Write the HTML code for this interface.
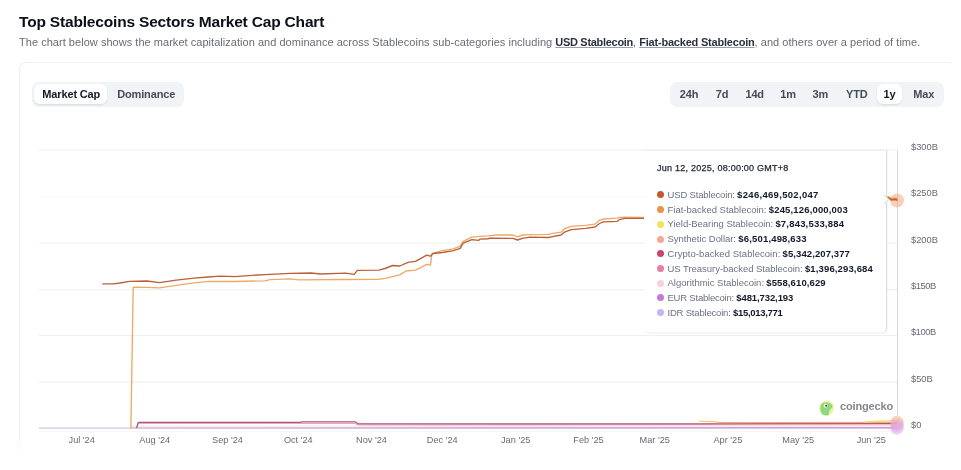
<!DOCTYPE html>
<html><head><meta charset="utf-8">
<style>
*{box-sizing:border-box;margin:0;padding:0}
html,body{width:961px;height:470px;overflow:hidden;background:#fff}
body{will-change:transform}
body{position:relative;font-family:"Liberation Sans",Arial,sans-serif;color:#0d1117}
.abs{position:absolute;white-space:nowrap}
#title{left:19px;top:12px;font-size:15.5px;letter-spacing:-0.18px;font-weight:700;color:#0b0f1a;line-height:20px}
#sub{left:19px;top:35px;font-size:11px;letter-spacing:0.035px;color:#676c77;line-height:14px}
#sub b{font-weight:700;letter-spacing:-0.3px;color:#2b3040;text-decoration:underline;text-decoration-color:#9aa0ab;text-underline-offset:1px}
#card{left:18.5px;top:61.5px;width:936px;height:394px;border:1.5px solid #f0f0f0;border-bottom:none;border-right-color:transparent;border-radius:6px 6px 0 0;-webkit-mask-image:linear-gradient(#000 370px,transparent 394px)}
.seg{background:#f1f4f7;border-radius:7px;height:25px}
.seg .it{position:absolute;top:0;height:25px;line-height:25px;font-size:11px;font-weight:700;color:#454b58;text-align:center;letter-spacing:-0.15px}
.seg .on{background:#fff;border-radius:6px;box-shadow:0 1px 2px rgba(16,24,40,.12);color:#111827;top:2px;height:20px;line-height:21px}
.yl{position:absolute;left:911px;font-size:9.3px;color:#666a73;line-height:10px;margin-top:1.2px}
.xl{position:absolute;top:434.5px;font-size:9.2px;color:#666a73;line-height:10px;transform:translateX(-50%)}
#tip{left:644px;top:150px;width:243px;height:182.5px;background:#fff;border:1px solid #f3f3f3;border-top-color:#eeeeee;border-left-color:transparent;border-right-color:#dcdde0;border-radius:0 0 5px 5px;box-shadow:1px 1px 2px rgba(0,0,0,.04)}
#tip .hd{position:absolute;left:12px;top:11.5px;font-size:9px;letter-spacing:.24px;color:#1f2430;-webkit-text-stroke:.25px #1f2430;line-height:10px}
.row{position:absolute;left:11px;right:0;font-size:9.5px;color:#6b7280;line-height:10px}
.row i{position:absolute;left:1px;top:1.3px;width:7px;height:7px;border-radius:50%}
.row b{position:absolute;top:0;color:#111827;font-weight:700}
.row .lb{display:inline-block;margin-left:11.5px}
</style></head><body>
<div id="title" class="abs">Top Stablecoins Sectors Market Cap Chart</div>
<div id="sub" class="abs">The chart below shows the market capitalization and dominance across Stablecoins sub-categories including <b>USD Stablecoin</b>, <b style="letter-spacing:-0.2px">Fiat-backed Stablecoin</b>, and others over a period of time.</div>
<div id="card" class="abs"></div>

<div class="abs seg" style="left:32px;top:82px;width:152px">
  <div class="it on" style="left:2px;width:73px;padding-left:1.5px">Market Cap</div>
  <div class="it" style="left:77.7px;width:73px">Dominance</div>
</div>
<div class="abs seg" style="left:670px;top:82px;width:274px">
  <div class="it" style="left:0;width:38px">24h</div>
  <div class="it" style="left:37px;width:30px">7d</div>
  <div class="it" style="left:66.7px;width:36px">14d</div>
  <div class="it" style="left:103px;width:30px">1m</div>
  <div class="it" style="left:134.8px;width:31px">3m</div>
  <div class="it" style="left:165.8px;width:42px">YTD</div>
  <div class="it on" style="left:207px;width:25px">1y</div>
  <div class="it" style="left:232.7px;width:42px">Max</div>
</div>

<svg class="abs" style="left:0;top:0" width="961" height="470" viewBox="0 0 961 470">
  <g stroke="#eeeeee" stroke-width="1">
    <line x1="39" y1="149.9" x2="897" y2="149.9"/>
    <line x1="39" y1="196.4" x2="897" y2="196.4" stroke="#f8f8f8"/>
    <line x1="39" y1="243.1" x2="897" y2="243.1"/>
    <line x1="39" y1="289.8" x2="897" y2="289.8"/>
    <line x1="39" y1="335.6" x2="897" y2="335.6"/>
    <line x1="39" y1="382.1" x2="897" y2="382.1"/>
  </g>
  <line x1="39" y1="431.3" x2="897" y2="431.3" stroke="#f6f5f2" stroke-width="1"/>
  <line x1="897.5" y1="150" x2="897.5" y2="416" stroke="#d8d9dc" stroke-width="1"/>
  <!-- near-zero lines -->
  <defs><linearGradient id="pg" x1="131" y1="0" x2="897" y2="0" gradientUnits="userSpaceOnUse"><stop offset="0" stop-color="#d7c2dc"/><stop offset="1" stop-color="#c9a0d3"/></linearGradient></defs>
  <polyline fill="none" stroke="#cfc6e8" stroke-width="1.4" points="39,428.1 897,428.1"/>
  <polyline fill="none" stroke="url(#pg)" stroke-width="1.3" points="131,427.9 897,427.6"/>
  <polyline fill="none" stroke="#fcebf6" stroke-width="1.6" points="132,426.2 897,426.2"/>
  <polyline fill="none" stroke="#f2a4bd" stroke-width="1.1" points="138,423.5 355,423.5 358,425 897,424.7"/>
  <polyline fill="none" stroke="#aa5775" stroke-width="1.3" stroke-linejoin="round" points="136.5,428 138.4,422.3 300,422.3 302,421.8 355,421.8 358,423.8 700,423.8 897,423.3"/>
  <polyline fill="none" stroke="#f2ad78" stroke-width="1.2" points="716,422.6 897,422.4"/>
  <polyline fill="none" stroke="#f3cd7e" stroke-width="1.3" points="699,421.3 715,421.6 718,422.4"/>
  <polyline fill="none" stroke="#f6d77a" stroke-width="1.4" points="865,422 878,421.2 897,420.6"/>
  <!-- fiat -->
  <polyline fill="none" stroke="#ecaa66" stroke-width="1.35" stroke-linejoin="round" points="130.9,428.3 133.2,287.2 147,287.3 159.5,287.9 176,285.3 194,282.9 208.7,281.3 234.7,281.5 265,280.8 270,279.6 290,278.9 298.5,279.8 345,279.5 378,279.4 385,278.4 399.8,274.9 406,271 415.4,270.2 420,267.8 426.7,264.4 430.4,265.2 432,253.6 442.4,250.6 453.5,248.8 460.2,246.2 463.2,241.3 471.9,237.2 480,236.3 488.1,235.9 496.3,235 513,235 517.5,236.9 522.5,235 530,234.7 548.75,234.4 552.5,233.4 561.25,232.2 564.4,228.75 571.4,226.4 585.4,225.4 595,224.1 599.5,220.3 603.3,219 617.3,218.1 619.2,217.4 625,217.1 644,217.3"/>
  <!-- usd -->
  <polyline fill="none" stroke="#bb5f3a" stroke-width="1.35" stroke-linejoin="round" points="102.3,283.9 113.7,283.9 120,283 129.3,281.4 147,281.0 159.5,282.7 176.2,280.1 193.9,278.2 208,277 220.2,276.1 234.7,276.6 252.4,275.4 265,274.6 290,273.4 311,273 320.4,274 345.4,273.2 354.2,274.3 357.3,270.4 378.7,270.1 385,268.5 392.5,265.5 399.8,266 408,262.4 415.4,261.3 420,258.8 426.8,255.2 430.4,256.2 433,253.5 442.4,252.5 453.5,250.6 460.2,248.4 463.2,243.2 471.9,239.7 478.8,240.3 480,239.1 488.1,238.75 490,238.1 513,238.4 517.5,240 522.5,238.4 530,237.2 548.75,237.5 552.5,236.6 561,235 564.4,232.2 571.4,229.6 585.4,228.3 595,227 599.5,223.5 603.3,221.9 617.3,221.3 619.2,219.7 625,218.4 644,218.3"/>
  <!-- end markers -->
  <circle cx="897" cy="200.5" r="7" fill="#f5b08a" opacity=".6"/>
  <polyline fill="none" stroke="#e8943f" stroke-width="1.5" points="886,197.2 888.5,197 891.7,198.8 895.3,198.3 897.5,199"/>
  <polyline fill="none" stroke="#c0602a" stroke-width="1.6" points="886,198 888.5,198 891.7,200 895.3,199.5 897.5,200.3"/>
  <circle cx="897" cy="422.6" r="6.8" fill="#f7b68e" opacity=".6"/>
  <circle cx="897" cy="425" r="6.8" fill="#eea6c8" opacity=".45"/>
  <circle cx="897" cy="427.8" r="6.8" fill="#d7a2f0" opacity=".55"/>
</svg>

<div class="yl" style="top:140.53px">$300B</div>
<div class="yl" style="top:186.83px">$250B</div>
<div class="yl" style="top:233.43px">$200B</div>
<div class="yl" style="top:280.23px;letter-spacing:-0.4px">$150B</div>
<div class="yl" style="top:326.13px;letter-spacing:-0.4px">$100B</div>
<div class="yl" style="top:372.63px">$50B</div>
<div class="yl" style="top:418.63px">$0</div>

<div class="xl" style="left:81.7px">Jul '24</div>
<div class="xl" style="left:154.8px">Aug '24</div>
<div class="xl" style="left:227.5px">Sep '24</div>
<div class="xl" style="left:298.3px">Oct '24</div>
<div class="xl" style="left:371.5px">Nov '24</div>
<div class="xl" style="left:442.3px">Dec '24</div>
<div class="xl" style="left:515.7px">Jan '25</div>
<div class="xl" style="left:588.5px">Feb '25</div>
<div class="xl" style="left:654.7px">Mar '25</div>
<div class="xl" style="left:727.9px">Apr '25</div>
<div class="xl" style="left:798.3px">May '25</div>
<div class="xl" style="left:871.3px">Jun '25</div>

<svg class="abs" style="left:816px;top:397px" width="22" height="22" viewBox="816 397 22 22">
  <circle cx="826.6" cy="408" r="7.6" fill="#faf0b4"/>
  <circle cx="826.6" cy="408" r="6.4" fill="#f4ee9c"/>
  <path d="M820.6 405.2 Q822.6 402 827 402.2 Q830.6 402.6 832.6 405.6 L832 407.8 Q829.6 409.4 829 412 L828.8 415.3 Q825 416 822 414.2 Q819.8 410.5 820.6 405.2 Z" fill="#8edb7e"/>
  <circle cx="825.6" cy="405.7" r="1.9" fill="#ffffff"/>
  <circle cx="826.2" cy="405.7" r="1.05" fill="#3b4a3a"/>
</svg>
<div class="abs" style="left:840px;top:400px;font-size:11px;font-weight:700;color:#85888d;line-height:12px;letter-spacing:-0.15px">coingecko</div>

<div id="tip" class="abs">
  <div style="position:absolute;right:-2px;top:45px;width:7px;height:7px;background:#fff;border-top:1px solid #d9dbdf;border-right:1px solid #d9dbdf;transform:rotate(45deg)"></div>
  <div class="hd">Jun 12, 2025, 08:00:00 GMT+8</div>
  <div class="row" style="top:39.00px"><i style="background:#c3582e"></i><span class="lb" style="letter-spacing:-0.160px">USD Stablecoin:</span><b style="left:81.1px;letter-spacing:0.312px">$246,469,502,047</b></div>
  <div class="row" style="top:53.74px"><i style="background:#e8954c"></i><span class="lb" style="letter-spacing:-0.013px">Fiat-backed Stablecoin:</span><b style="left:112.8px;letter-spacing:0.156px">$245,126,000,003</b></div>
  <div class="row" style="top:68.48px"><i style="background:#ece45c"></i><span class="lb" style="letter-spacing:-0.028px">Yield-Bearing Stablecoin:</span><b style="left:119.4px;letter-spacing:0.193px">$7,843,533,884</b></div>
  <div class="row" style="top:83.22px"><i style="background:#f6a98a"></i><span class="lb" style="letter-spacing:-0.041px">Synthetic Dollar:</span><b style="left:82.3px;letter-spacing:0.171px">$6,501,498,633</b></div>
  <div class="row" style="top:97.96px"><i style="background:#c9466a"></i><span class="lb" style="letter-spacing:0.056px">Crypto-backed Stablecoin:</span><b style="left:126.6px;letter-spacing:0.093px">$5,342,207,377</b></div>
  <div class="row" style="top:112.70px"><i style="background:#e87ea8"></i><span class="lb" style="letter-spacing:-0.037px">US Treasury-backed Stablecoin:</span><b style="left:148.9px;letter-spacing:0.143px">$1,396,293,684</b></div>
  <div class="row" style="top:127.44px"><i style="background:#f8cfdf"></i><span class="lb" style="letter-spacing:-0.004px">Algorithmic Stablecoin:</span><b style="left:110.3px;letter-spacing:0.108px">$558,610,629</b></div>
  <div class="row" style="top:142.18px"><i style="background:#c27ad8"></i><span class="lb" style="letter-spacing:-0.213px">EUR Stablecoin:</span><b style="left:80.3px;letter-spacing:-0.100px">$481,732,193</b></div>
  <div class="row" style="top:156.92px"><i style="background:#c6b3f5"></i><span class="lb" style="letter-spacing:-0.193px">IDR Stablecoin:</span><b style="left:76.9px;letter-spacing:-0.282px">$15,013,771</b></div>
</div>
</body></html>
